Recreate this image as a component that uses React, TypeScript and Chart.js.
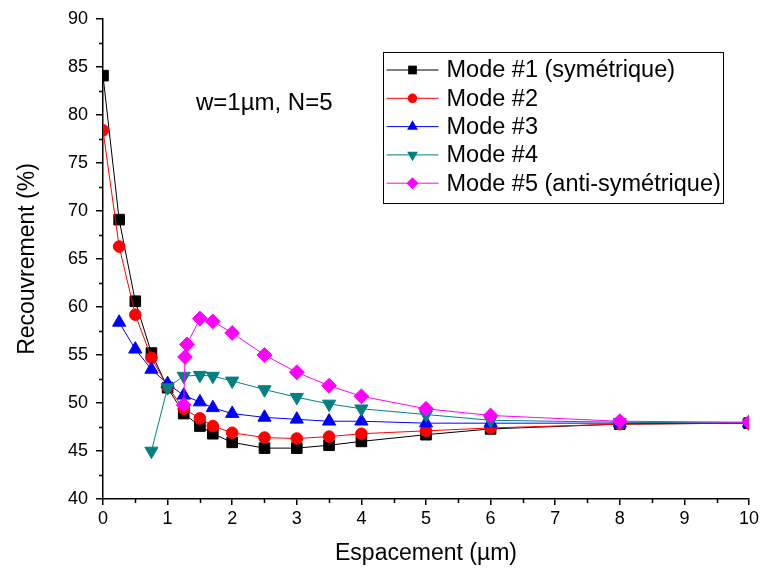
import React, { useEffect, useRef } from 'react';
import { Chart, registerables } from 'chart.js';

Chart.register(...registerables);

const FONT = '"Liberation Sans", Arial, Helvetica, sans-serif';

// Espacement (µm)
const xFull = [0, 0.25, 0.5, 0.75, 1, 1.25, 1.5, 1.7, 2, 2.5, 3, 3.5, 4, 5, 6, 8, 10];
const xMode3 = [0.25, 0.5, 0.75, 1, 1.25, 1.5, 1.7, 2, 2.5, 3, 3.5, 4, 5, 6, 8, 10];
const xMode4 = [0.75, 1, 1.25, 1.5, 1.7, 2, 2.5, 3, 3.5, 4, 5, 6, 8, 10];
const xMode5 = [1.25, 1.27, 1.3, 1.5, 1.7, 2, 2.5, 3, 3.5, 4, 5, 6, 8, 10];

// Recouvrement (%)
const mode1 = [84.1, 69.1, 60.6, 55.2, 51.6, 48.9, 47.6, 46.8, 45.9, 45.3, 45.3, 45.6, 46.0, 46.7, 47.3, 47.8, 47.9];
const mode2 = [78.4, 66.3, 59.2, 54.7, 51.7, 49.4, 48.4, 47.6, 46.9, 46.4, 46.3, 46.5, 46.8, 47.1, 47.4, 47.8, 47.9];
const mode3 = [58.4, 55.6, 53.5, 52.0, 50.8, 50.1, 49.5, 48.9, 48.5, 48.3, 48.1, 48.1, 47.9, 47.9, 47.9, 47.9];
const mode4 = [45.0, 51.6, 52.8, 52.9, 52.8, 52.3, 51.4, 50.6, 49.9, 49.4, 48.8, 48.2, 48.0, 47.9];
const mode5 = [49.8, 54.8, 56.1, 58.8, 58.5, 57.3, 55.0, 53.2, 51.8, 50.7, 49.4, 48.7, 48.1, 48.0];

const seriesLabels = ['Mode #1 (symétrique)', 'Mode #2', 'Mode #3', 'Mode #4', 'Mode #5 (anti-symétrique)'];
const seriesColors = ['#000000', '#ff0000', '#0000ff', '#008080', '#ff00ff'];
const seriesStyles = ['rect', 'circle', 'triangle', 'triangleDown', 'rectRot'];
const seriesRadius = [7.5, 5.8, 7.6, 7.6, 7.4];

const xMinorTicks = [0.5, 1.5, 2.5, 3.5, 4.5, 5.5, 6.5, 7.5, 8.5, 9.5];
const yMinorTicks = [42.5, 47.5, 52.5, 57.5, 62.5, 67.5, 72.5, 77.5, 82.5, 87.5];

const annotationText = 'w=1µm, N=5';

const toPoints = (xs: number[], ys: number[]) => xs.map((x, i) => ({ x, y: ys[i] }));

function markerPath(ctx: CanvasRenderingContext2D, style: string, x: number, y: number, r: number) {
  ctx.beginPath();
  if (style === 'rect') {
    const s = Math.SQRT1_2 * r;
    ctx.rect(x - s, y - s, 2 * s, 2 * s);
  } else if (style === 'circle') {
    ctx.arc(x, y, r, 0, Math.PI * 2);
  } else if (style === 'triangle' || style === 'triangleDown') {
    const d = style === 'triangle' ? 1 : -1;
    for (let k = 0; k < 3; k++) {
      const a = (k * 2 * Math.PI) / 3;
      const px = x + Math.sin(a) * r;
      const py = y - d * Math.cos(a) * r;
      if (k === 0) ctx.moveTo(px, py);
      else ctx.lineTo(px, py);
    }
  } else {
    ctx.moveTo(x - r, y);
    ctx.lineTo(x, y - r);
    ctx.lineTo(x + r, y);
    ctx.lineTo(x, y + r);
  }
  ctx.closePath();
}

const decorPlugin = {
  id: 'decor',
  afterDraw(chart: any) {
    const ctx: CanvasRenderingContext2D = chart.ctx;
    const xs = chart.scales.x;
    const ys = chart.scales.y;
    const { left, bottom } = chart.chartArea;
    ctx.save();
    // minor ticks
    ctx.strokeStyle = '#000';
    ctx.lineWidth = 1.5;
    ctx.beginPath();
    xMinorTicks.forEach((v) => {
      const px = Math.round(xs.getPixelForValue(v)) + 0.5;
      ctx.moveTo(px, bottom);
      ctx.lineTo(px, bottom + 4);
    });
    yMinorTicks.forEach((v) => {
      const py = Math.round(ys.getPixelForValue(v)) + 0.5;
      ctx.moveTo(left, py);
      ctx.lineTo(left - 4, py);
    });
    ctx.stroke();

    // annotation
    ctx.fillStyle = '#000';
    ctx.font = `24px ${FONT}`;
    ctx.textAlign = 'left';
    ctx.textBaseline = 'middle';
    ctx.fillText(annotationText, xs.getPixelForValue(1.44), ys.getPixelForValue(81.2));

    // legend
    const bx = 383.5, by = 52.5, bw = 340, bh = 151;
    ctx.lineWidth = 1;
    ctx.strokeStyle = '#000';
    ctx.strokeRect(bx, by, bw, bh);
    ctx.font = `23.5px ${FONT}`;
    seriesLabels.forEach((lab, i) => {
      const ry = by + 17.5 + i * 28.3;
      ctx.strokeStyle = seriesColors[i];
      ctx.lineWidth = 1;
      ctx.beginPath();
      ctx.moveTo(bx + 3, ry);
      ctx.lineTo(bx + 55, ry);
      ctx.stroke();
      markerPath(ctx, seriesStyles[i], bx + 29, ry, seriesRadius[i] * 0.82);
      ctx.fillStyle = seriesColors[i];
      ctx.fill();
      ctx.fillStyle = '#000';
      ctx.fillText(lab, bx + 63, ry + 1);
    });
    ctx.restore();
  },
};

export default function App() {
  const ref = useRef<HTMLCanvasElement>(null);
  useEffect(() => {
    document.body.style.margin = '0';
    const xsets = [xFull, xFull, xMode3, xMode4, xMode5];
    const ysets = [mode1, mode2, mode3, mode4, mode5];
    const datasets = seriesLabels.map((lab, i) => ({
      label: lab,
      data: toPoints(xsets[i], ysets[i]),
      borderColor: seriesColors[i],
      backgroundColor: seriesColors[i],
      borderWidth: 1,
      pointStyle: seriesStyles[i] === 'triangleDown' ? 'triangle' : seriesStyles[i],
      pointRotation: seriesStyles[i] === 'triangleDown' ? 180 : 0,
      pointRadius: seriesRadius[i],
      pointBorderWidth: 1,
      pointBorderColor: seriesColors[i],
      pointBackgroundColor: seriesColors[i],
      tension: 0,
      fill: false,
      order: 5 - i,
    }));
    const chart = new Chart(ref.current as HTMLCanvasElement, {
      type: 'line',
      data: { datasets },
      options: {
        animation: false,
        responsive: false,
        devicePixelRatio: 1,
        layout: { padding: { left: 0, right: 11, top: 19, bottom: 0 } },
        plugins: { legend: { display: false }, tooltip: { enabled: false } },
        events: [],
        scales: {
          x: {
            type: 'linear',
            min: 0,
            max: 10,
            ticks: { stepSize: 1, padding: 3, color: '#000', font: { family: FONT, size: 18 }, maxRotation: 0, autoSkip: false },
            grid: { display: true, drawOnChartArea: false, drawTicks: true, tickLength: 6, color: '#000', lineWidth: 1.5 },
            border: { display: true, color: '#000', width: 1.5 },
            title: { display: true, text: 'Espacement (µm)', color: '#000', font: { family: FONT, size: 23 }, padding: { top: 0, bottom: 9 } },
            afterFit: (s: any) => { s.height = 77; },
          },
          y: {
            type: 'linear',
            min: 40,
            max: 90,
            ticks: { stepSize: 5, padding: 8, color: '#000', font: { family: FONT, size: 18 }, autoSkip: false },
            grid: { display: true, drawOnChartArea: false, drawTicks: true, tickLength: 7, color: '#000', lineWidth: 1.5 },
            border: { display: true, color: '#000', width: 1.5 },
            title: { display: true, text: 'Recouvrement (%)', color: '#000', font: { family: FONT, size: 23 }, padding: { top: 14, bottom: 0 } },
            afterFit: (s: any) => { s.width = 103; },
          },
        },
      } as any,
      plugins: [decorPlugin],
    });
    return () => chart.destroy();
  }, []);
  return (
    <div style={{ position: 'absolute', left: 0, top: 0, width: 762, height: 576, background: '#fff' }}>
      <canvas ref={ref} width={762} height={576} style={{ display: 'block' }} />
    </div>
  );
}
